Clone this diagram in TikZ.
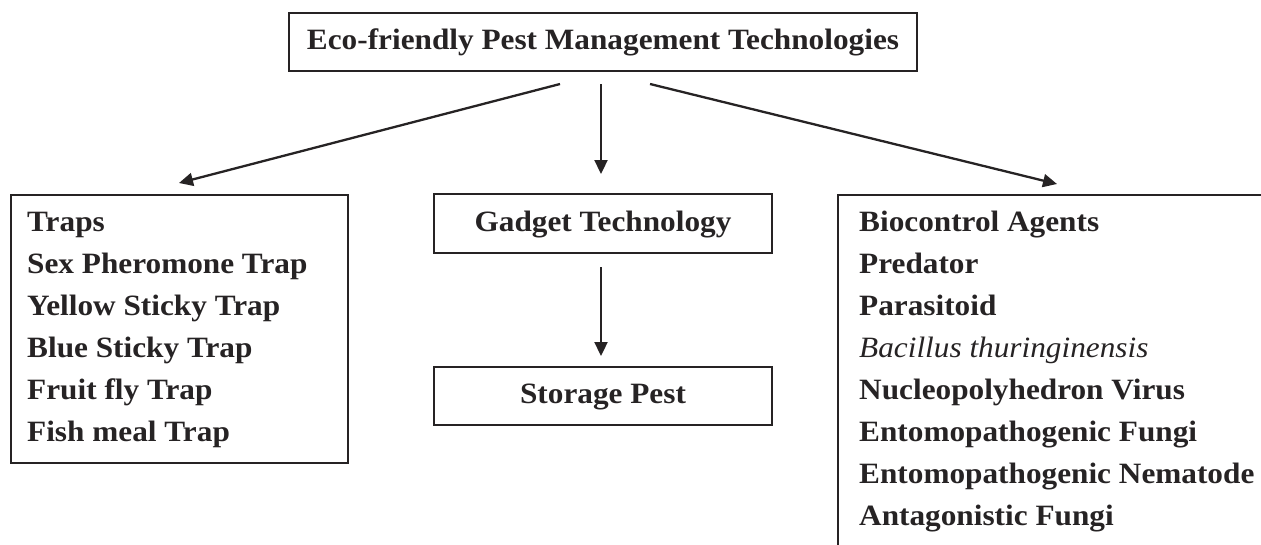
\documentclass[tikz,border=0pt]{standalone}
\usepackage{fontspec}
\setmainfont{Liberation Serif}[FakeStretch=1.06]
\usetikzlibrary{arrows.meta}
\definecolor{ink}{RGB}{38,35,36}
\tikzset{
  x=1pt, y=-1pt,
  box/.style={draw=ink, line width=2.5pt, rectangle, inner sep=0pt},
  txt/.style={text=ink, font=\fontsize{29.5}{35}\selectfont\bfseries, inner sep=0pt, anchor=base west},
  ctxt/.style={text=ink, font=\fontsize{29.5}{35}\selectfont\bfseries, inner sep=0pt, anchor=base},
  arr/.style={draw=ink, line width=2.3pt, -{Triangle[length=14pt,width=13pt]}}
}
\begin{document}
\begin{tikzpicture}
\useasboundingbox (0,0) rectangle (1261,544);
\clip (0,0) rectangle (1261,544);
% boxes
\node[box, minimum width=628pt, minimum height=58pt] (top) at (603,42) {};
\node[box, minimum width=337pt, minimum height=268pt] (traps) at (179.5,329) {};
\node[box, minimum width=338pt, minimum height=59pt] (gadget) at (603,223.5) {};
\node[box, minimum width=338pt, minimum height=58pt] (storage) at (603,396) {};
\node[box, minimum width=452pt, minimum height=375pt] (bio) at (1064,382.5) {};
% centred labels
\node[ctxt] (toplbl) at (603,49) {Eco-friendly Pest Management Technologies};
\node[ctxt] (gadgetlbl) at (603,231) {Gadget Technology};
\node[ctxt] (storagelbl) at (603,403) {Storage Pest};
% traps list
\node[txt] (t1) at (27,231) {Traps};
\node[txt] (t2) at (27,273) {Sex Pheromone Trap};
\node[txt] (t3) at (27,315) {Yellow Sticky Trap};
\node[txt] (t4) at (27,357) {Blue Sticky Trap};
\node[txt] (t5) at (27,399) {Fruit fly Trap};
\node[txt] (t6) at (27,441) {Fish meal Trap};
% biocontrol list
\node[txt] (b1) at (859,231) {Biocontrol Agents};
\node[txt] (b2) at (859,273) {Predator};
\node[txt] (b3) at (859,315) {Parasitoid};
\node[txt] (b4) at (859,357) {\mdseries\itshape Bacillus thuringinensis};
\node[txt] (b5) at (859,399) {Nucleopolyhedron Virus};
\node[txt] (b6) at (859,441) {Entomopathogenic Fungi};
\node[txt] (b7) at (859,483) {Entomopathogenic Nematode};
\node[txt] (b8) at (859,525) {Antagonistic Fungi};
% connector ends
\coordinate (sL) at (560,84);
\coordinate (sM) at (601,84);
\coordinate (sR) at (650,84);
\coordinate (eL) at (179,183);
\coordinate (eM) at (601,174);
\coordinate (eR) at (1057,184);
\coordinate (sG) at (601,267);
\coordinate (eG) at (601,356);
% arrows
\draw[arr] (sL) -- (eL);
\draw[arr] (sM) -- (eM);
\draw[arr] (sR) -- (eR);
\draw[arr] (sG) -- (eG);
\end{tikzpicture}
\end{document}
